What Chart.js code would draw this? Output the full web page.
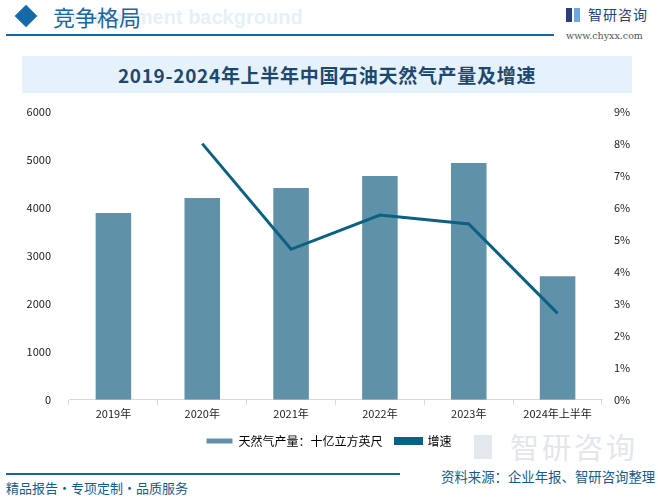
<!DOCTYPE html>
<html>
<head>
<meta charset="utf-8">
<script src="https://cdn.jsdelivr.net/npm/chart.js@4.4.1/dist/chart.umd.min.js"></script>
<style>
  html, body { margin: 0; padding: 0; background: #fff; }
  body { width: 658px; height: 499px; position: relative; overflow: hidden; font-family: "Noto Sans CJK SC", "Noto Sans", sans-serif; }
  .diamond { position: absolute; left: 18px; top: 8px; width: 16px; height: 16px; background: #1668a6; transform: rotate(45deg); }
  .head-ghost { position: absolute; left: 57px; top: 6px; font: bold 20px "Liberation Sans", sans-serif; color: #e6f0f8; white-space: nowrap; }
  .head-title { position: absolute; left: 53px; top: 0px; font-size: 22px; line-height: 32px; color: #1b65a0; }
  .head-line { position: absolute; left: 6px; top: 34px; width: 548px; height: 2px; background: #1565a0; }
  .logo-a { position: absolute; left: 566px; top: 8px; width: 6px; height: 14px; background: #2a3f7a; }
  .logo-b { position: absolute; left: 574px; top: 8px; width: 6px; height: 14px; background: #6fa8dc; }
  .logo-text { position: absolute; left: 588px; top: 4px; font-size: 14px; line-height: 20px; color: #2a3f7a; letter-spacing: 1px; white-space: nowrap; }
  .logo-url { position: absolute; left: 566px; top: 30px; font: 9.5px "DejaVu Serif", serif; color: #555; white-space: nowrap; }
  .title-box { position: absolute; left: 22px; top: 56px; width: 610px; height: 37px; background: #e6f2fb; }
  .title-box div { text-align: center; line-height: 37px; font-size: 19px; letter-spacing: 0.7px; font-weight: bold; color: #1d4870; white-space: nowrap; }
  #wrap { position: absolute; left: 0; top: 95px; width: 658px; height: 362px; }
  .foot-line { position: absolute; left: 6px; top: 473px; width: 394px; height: 2px; background: #1565a0; }
  .foot-left { position: absolute; left: 6px; top: 479px; font-size: 13px; line-height: 18px; color: #1a5a8a; white-space: nowrap; }
  .foot-ghost-mark { position: absolute; left: 474px; top: 435px; width: 18px; height: 24px; background: #e3e8ee; }
  .foot-ghost { position: absolute; left: 510px; top: 426px; font-size: 29px; line-height: 40px; color: #e3e6ea; letter-spacing: 3px; white-space: nowrap; }
  .foot-right { position: absolute; left: 441px; top: 467px; font-size: 13.4px; line-height: 18px; color: #1a5a8a; white-space: nowrap; }
</style>
</head>
<body>
<div class="head-ghost">Development background</div>
<div class="diamond"></div>
<div class="head-title">竞争格局</div>
<div class="head-line"></div>
<div class="logo-a"></div><div class="logo-b"></div>
<div class="logo-text">智研咨询</div>
<div class="logo-url">www.chyxx.com</div>
<div class="title-box"><div>2019-2024年上半年中国石油天然气产量及增速</div></div>
<div class="foot-ghost-mark"></div>
<div class="foot-ghost">智研咨询</div>
<div id="wrap"><canvas id="chart" width="658" height="362"></canvas></div>
<div class="foot-line"></div>
<div class="foot-left">精品报告・专项定制・品质服务</div>
<div class="foot-right">资料来源：企业年报、智研咨询整理</div>
<script>
const categories = ["2019年", "2020年", "2021年", "2022年", "2023年", "2024年上半年"];
const output = [3890, 4200, 4410, 4660, 4930, 2570];
const growth = [null, 0.080, 0.047, 0.0577, 0.0549, 0.027];
const leftTicks = [0, 1000, 2000, 3000, 4000, 5000, 6000];
const rightTicks = [0, 0.01, 0.02, 0.03, 0.04, 0.05, 0.06, 0.07, 0.08, 0.09];

const tickFont = { family: "'Noto Sans CJK SC', 'Liberation Sans', sans-serif", size: 11 };

new Chart(document.getElementById("chart"), {
  data: {
    labels: categories,
    datasets: [
      { type: "line", label: "增速", data: growth, yAxisID: "y2", borderColor: "#0b6182", backgroundColor: "#0b6182", borderWidth: 3, pointRadius: 0, tension: 0, order: 0 },
      { type: "bar", label: "天然气产量：十亿立方英尺", data: output, yAxisID: "y", backgroundColor: "#5f91a8", barPercentage: 0.8, categoryPercentage: 0.5, order: 1 },
    ],
  },
  options: {
    responsive: false,
    animation: false,
    layout: { padding: { top: 5, left: 0, right: 0, bottom: 0 } },
    plugins: {
      legend: {
        position: "bottom",
        reverse: true,
        labels: { boxWidth: 26, boxHeight: 5, padding: 13, color: "#000", font: { family: tickFont.family, size: 12 } },
      },
      tooltip: { enabled: false },
    },
    scales: {
      x: {
        grid: { display: true, offset: true, drawOnChartArea: false, tickLength: 5, color: "#d9d9d9" },
        border: { color: "#d9d9d9" },
        ticks: { color: "#222", font: tickFont, padding: 2, maxRotation: 0 },
      },
      y: {
        position: "left",
        min: 0, max: 6000,
        afterBuildTicks: s => { s.ticks = leftTicks.map(v => ({ value: v })); },
        afterFit: s => { s.width = 69; },
        grid: { display: false },
        border: { display: false },
        ticks: { color: "#222", font: tickFont, padding: 10, callback: v => String(v) },
      },
      y2: {
        position: "right",
        min: 0, max: 0.09,
        afterBuildTicks: s => { s.ticks = rightTicks.map(v => ({ value: v })); },
        afterFit: s => { s.width = 56; },
        grid: { display: false },
        border: { display: false },
        ticks: { color: "#222", font: tickFont, padding: 4, callback: v => Math.round(v * 100) + "%" },
      },
    },
  },
});
</script>
</body>
</html>
